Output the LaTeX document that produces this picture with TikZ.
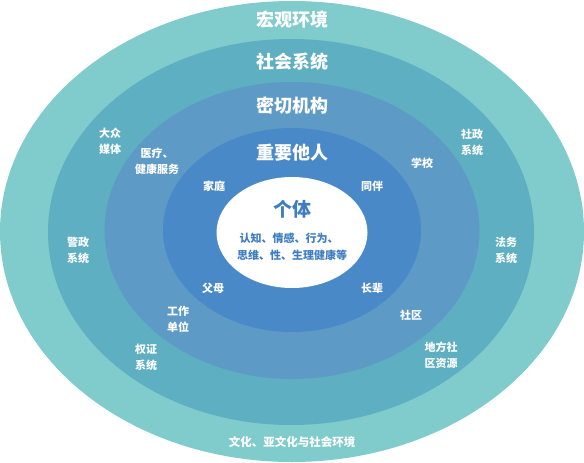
\documentclass[tikz,border=0pt]{standalone}
\usepackage{fontspec}
\setmainfont{Noto Sans CJK SC}
\definecolor{hongguan}{HTML}{80CBCB}
\definecolor{shehui}{HTML}{5DAFC1}
\definecolor{miqie}{HTML}{5E9AC6}
\definecolor{zhongyao}{HTML}{4A89C8}
\definecolor{getilan}{HTML}{3E7EC0}
\begin{document}
\begin{tikzpicture}[x=1pt, y=-1pt, every node/.style={text=white, align=center, inner sep=0pt, font=\bfseries\fontsize{11}{16}\selectfont},
    cengming/.style={font=\bfseries\fontsize{18}{20}\selectfont},
    getiwen/.style={text=getilan}]
    \useasboundingbox (0,0) rectangle (584,463);
    % 1. 同心椭圆 (由外向内)
    \fill[hongguan] (292,231.5) ellipse [x radius=292pt, y radius=230.5pt];
    \fill[shehui] (291,232) ellipse [x radius=243pt, y radius=193pt];
    \fill[miqie] (292,230.5) ellipse [x radius=187.5pt, y radius=148.5pt];
    \fill[zhongyao] (292,230) ellipse [x radius=129pt, y radius=102pt];
    \fill[white] (292,232.5) ellipse [x radius=75.5pt, y radius=55.5pt];

    % 2. 各层名称
    \node[cengming] (hongguanT) at (292,20) {宏观环境};
    \node[cengming] (shehuiT) at (292,62) {社会系统};
    \node[cengming] (miqieT) at (292,106) {密切机构};
    \node[cengming] (zhongyaoT) at (292,153) {重要他人};
    \node[getiwen, font=\bfseries\fontsize{19}{21}\selectfont] (geti) at (292,209) {个体};
    \node[getiwen] (getiA) at (289,238) {认知、情感、行为、};
    \node[getiwen] (getiB) at (292,255) {思维、性、生理健康等};

    % 3. 重要他人
    \node (jiating) at (214,186) {家庭};
    \node (tongban) at (372,186) {同伴};
    \node (fumu) at (213,288) {父母};
    \node (zhangbei) at (372,288) {长辈};

    % 4. 密切机构
    \node (yiliao) at (157,161) {医疗、\\健康服务};
    \node (xuexiao) at (422,163) {学校};
    \node (gongzuo) at (178,319) {工作\\单位};
    \node (shequ) at (411,315) {社区};

    % 5. 社会系统
    \node (meiti) at (110,141) {大众\\媒体};
    \node (shezheng) at (472,142) {社政\\系统};
    \node (jingzheng) at (78,250) {警政\\系统};
    \node (fawu) at (506,250) {法务\\系统};
    \node (quanzheng) at (146,357) {权证\\系统};
    \node (difang) at (441,355) {地方社\\区资源};

    % 6. 宏观环境
    \node[font=\bfseries\fontsize{11.5}{14}\selectfont] (wenhua) at (292,442) {文化、亚文化与社会环境};
\end{tikzpicture}
\end{document}
